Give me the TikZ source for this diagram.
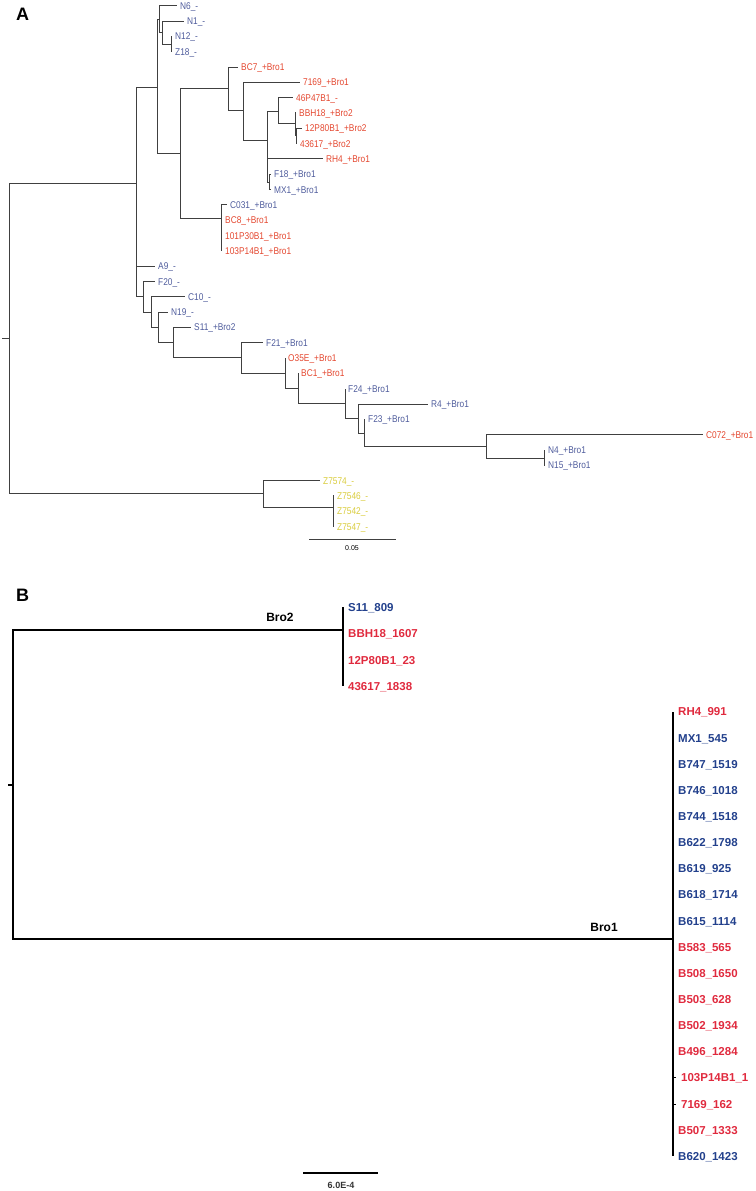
\documentclass[tikz,border=0pt]{standalone}
\usepackage{fontspec}
\setmainfont{Liberation Sans}
\newfontfamily\leaffont[FakeStretch=0.85]{Liberation Sans}
\definecolor{tblue}{HTML}{4F5C9C}
\definecolor{tred}{HTML}{E4472F}
\definecolor{tyel}{HTML}{D9CC3C}
\definecolor{bblue}{HTML}{22408C}
\definecolor{bred}{HTML}{E02A3E}
\definecolor{edge}{HTML}{404040}
\tikzset{br/.style={draw=edge,line width=0.9pt}, brB/.style={draw=black,line width=1.4pt},
leafA/.style={anchor=west,inner xsep=3pt,inner ysep=0pt,text height=7pt,text depth=0pt,font=\leaffont\fontsize{9.8}{10}\selectfont},
leafB/.style={anchor=west,inner xsep=5pt,inner ysep=0pt,text height=8.2pt,text depth=0pt,font=\bfseries\fontsize{11.5}{12}\selectfont},
ablue/.style={leafA,text=tblue}, ared/.style={leafA,text=tred}, ayel/.style={leafA,text=tyel},
bbl/.style={leafB,text=bblue}, brd/.style={leafB,text=bred},
panel/.style={font=\bfseries\fontsize{18}{18}\selectfont}, clade/.style={font=\bfseries\fontsize{12}{12}\selectfont}}

\begin{document}
\begin{tikzpicture}[x=1pt,y=-1pt]
\useasboundingbox (0,0) rectangle (755,1191);
\node[panel] (pA) at (22.5,14) {A};
\node[panel] (pB) at (22.5,595.5) {B};
% tree A, internal nodes
\coordinate (rA0) at (2,338); \coordinate (rA) at (9,338);
\coordinate (a1) at (136,183); \coordinate (a2) at (157,87); \coordinate (a3) at (159,19);
\coordinate (a4) at (162,32); \coordinate (a5) at (171,44); \coordinate (a6) at (180,153);
\coordinate (a7) at (228,88); \coordinate (a8) at (243,110); \coordinate (a9) at (267,140);
\coordinate (a10) at (278,111); \coordinate (a11) at (295,123); \coordinate (a12) at (296,135);
\coordinate (a13) at (269,182); \coordinate (a14) at (221,218);
\coordinate (a20) at (143,296); \coordinate (a21) at (151,312); \coordinate (a22) at (158,327);
\coordinate (a23) at (173,342); \coordinate (a24) at (241,357.5); \coordinate (a25) at (285,373);
\coordinate (a26) at (298,388); \coordinate (a27) at (345,403); \coordinate (a28) at (358,418);
\coordinate (a29) at (364,433); \coordinate (a30) at (486,446.5); \coordinate (a31) at (544,458);
\coordinate (az1) at (263,493.5); \coordinate (az2) at (333,507);
% tree A, leaves
\node[ablue] (aN6) at (177,5.7) {N6\_-};
\node[ablue] (aN1) at (184,21.0) {N1\_-};
\node[ablue] (aN12) at (172,36.3) {N12\_-};
\node[ablue] (aZ18) at (172,51.7) {Z18\_-};
\node[ared] (aBC7) at (238,67.0) {BC7\_+Bro1};
\node[ared] (a7169) at (300,82.3) {7169\_+Bro1};
\node[ared] (a46P) at (293,97.6) {46P47B1\_-};
\node[ared] (aBBH) at (296,112.9) {BBH18\_+Bro2};
\node[ared] (a12P) at (302,128.3) {12P80B1\_+Bro2};
\node[ared] (a436) at (297,143.6) {43617\_+Bro2};
\node[ared] (aRH4) at (323,158.9) {RH4\_+Bro1};
\node[ablue] (aF18) at (271,174.2) {F18\_+Bro1};
\node[ablue] (aMX1) at (271,189.5) {MX1\_+Bro1};
\node[ablue] (aC031) at (227,204.9) {C031\_+Bro1};
\node[ared] (aBC8) at (222,220.2) {BC8\_+Bro1};
\node[ared] (a101) at (222,235.5) {101P30B1\_+Bro1};
\node[ared] (a103) at (222,250.8) {103P14B1\_+Bro1};
\node[ablue] (aA9) at (155,266.1) {A9\_-};
\node[ablue] (aF20) at (155,281.5) {F20\_-};
\node[ablue] (aC10) at (185,296.8) {C10\_-};
\node[ablue] (aN19) at (168,312.1) {N19\_-};
\node[ablue] (aS11) at (191,327.4) {S11\_+Bro2};
\node[ablue] (aF21) at (263,342.7) {F21\_+Bro1};
\node[ared] (aO35E) at (285,358.1) {O35E\_+Bro1};
\node[ared] (aBC1) at (298,373.4) {BC1\_+Bro1};
\node[ablue] (aF24) at (345,388.7) {F24\_+Bro1};
\node[ablue] (aR4) at (428,404.0) {R4\_+Bro1};
\node[ablue] (aF23) at (365,419.3) {F23\_+Bro1};
\node[ared] (aC072) at (703,434.7) {C072\_+Bro1};
\node[ablue] (aN4) at (545,450.0) {N4\_+Bro1};
\node[ablue] (aN15) at (545,465.3) {N15\_+Bro1};
\node[ayel] (aZ74) at (320,480.6) {Z7574\_-};
\node[ayel] (aZ46) at (334,495.9) {Z7546\_-};
\node[ayel] (aZ42) at (334,511.3) {Z7542\_-};
\node[ayel] (aZ47) at (334,526.6) {Z7547\_-};
% tree A, branches
\draw[br] (rA0) -- (rA); \draw[br] (rA) |- (a1); \draw[br] (rA) |- (az1);
\draw[br] (a1) |- (a2); \draw[br] (a1) |- (aA9.west); \draw[br] (a1) |- (a20);
\draw[br] (a2) |- (a3); \draw[br] (a2) |- (a6);
\draw[br] (a3) |- (aN6.west); \draw[br] (a3) |- (a4);
\draw[br] (a4) |- (aN1.west); \draw[br] (a4) |- (a5);
\draw[br] (a5) |- (aN12.west); \draw[br] (a5) |- (aZ18.west);
\draw[br] (a6) |- (a7); \draw[br] (a6) |- (a14);
\draw[br] (a7) |- (aBC7.west); \draw[br] (a7) |- (a8);
\draw[br] (a8) |- (a7169.west); \draw[br] (a8) |- (a9);
\draw[br] (a9) |- (a10); \draw[br] (a9) |- (aRH4.west); \draw[br] (a9) |- (a13);
\draw[br] (a10) |- (a46P.west); \draw[br] (a10) |- (a11);
\draw[br] (a11) |- (aBBH.west); \draw[br] (a11) |- (a12);
\draw[br] (a12) |- (a12P.west); \draw[br] (a12) |- (a436.west);
\draw[br] (a13) |- (aF18.west); \draw[br] (a13) |- (aMX1.west);
\draw[br] (a14) |- (aC031.west); \draw[br] (a14) |- (aBC8.west); \draw[br] (a14) |- (a101.west); \draw[br] (a14) |- (a103.west);
\draw[br] (a20) |- (aF20.west); \draw[br] (a20) |- (a21);
\draw[br] (a21) |- (aC10.west); \draw[br] (a21) |- (a22);
\draw[br] (a22) |- (aN19.west); \draw[br] (a22) |- (a23);
\draw[br] (a23) |- (aS11.west); \draw[br] (a23) |- (a24);
\draw[br] (a24) |- (aF21.west); \draw[br] (a24) |- (a25);
\draw[br] (a25) |- (aO35E.west); \draw[br] (a25) |- (a26);
\draw[br] (a26) |- (aBC1.west); \draw[br] (a26) |- (a27);
\draw[br] (a27) |- (aF24.west); \draw[br] (a27) |- (a28);
\draw[br] (a28) |- (aR4.west); \draw[br] (a28) |- (a29);
\draw[br] (a29) |- (aF23.west); \draw[br] (a29) |- (a30);
\draw[br] (a30) |- (aC072.west); \draw[br] (a30) |- (a31);
\draw[br] (a31) |- (aN4.west); \draw[br] (a31) |- (aN15.west);
\draw[br] (az1) |- (aZ74.west); \draw[br] (az1) |- (az2);
\draw[br] (az2) |- (aZ46.west); \draw[br] (az2) |- (aZ42.west); \draw[br] (az2) |- (aZ47.west);
% scale A
\coordinate (sA1) at (309,539); \coordinate (sA2) at (396,539);
\draw[br] (sA1) -- (sA2);
\node[font=\fontsize{7}{7}\selectfont] (sAl) at (352,548) {0.05};
% tree B
\coordinate (rB0) at (8,785); \coordinate (rB) at (13,785);
\coordinate (b1) at (343,630); \coordinate (b2) at (673,939);
\node[clade] (lBro2) at (280,617.5) {Bro2};
\node[clade] (lBro1) at (604,927) {Bro1};
\node[bbl] (bS11) at (343,607) {S11\_809};
\node[brd] (bBBH) at (343,633) {BBH18\_1607};
\node[brd] (b12P) at (343,660) {12P80B1\_23};
\node[brd] (b436) at (343,686) {43617\_1838};
\node[brd] (bRH4) at (673,711.7) {RH4\_991};
\node[bbl] (bMX1) at (673,737.9) {MX1\_545};
\node[bbl] (b747) at (673,764.0) {B747\_1519};
\node[bbl] (b746) at (673,790.2) {B746\_1018};
\node[bbl] (b744) at (673,816.3) {B744\_1518};
\node[bbl] (b622) at (673,842.5) {B622\_1798};
\node[bbl] (b619) at (673,868.6) {B619\_925};
\node[bbl] (b618) at (673,894.8) {B618\_1714};
\node[bbl] (b615) at (673,920.9) {B615\_1114};
\node[brd] (b583) at (673,947.1) {B583\_565};
\node[brd] (b508) at (673,973.2) {B508\_1650};
\node[brd] (b503) at (673,999.4) {B503\_628};
\node[brd] (b502) at (673,1025.5) {B502\_1934};
\node[brd] (b496) at (673,1051.7) {B496\_1284};
\node[brd] (b103) at (676,1077.8) {103P14B1\_1};
\node[brd] (b7169) at (676,1104.0) {7169\_162};
\node[brd] (b507) at (673,1130.1) {B507\_1333};
\node[bbl] (b620) at (673,1156.3) {B620\_1423};
\draw[brB] (rB0) -- (rB); \draw[brB] (rB) |- (b1); \draw[brB] (rB) |- (b2);
\draw[brB] (b1) |- (bS11.west); \draw[brB] (b1) |- (b436.west);
\draw[brB] (b2) |- (bRH4.west); \draw[brB] (b2) |- (b620.west);
\draw[brB,line width=1pt] (b2) |- (b103.west); \draw[brB,line width=1pt] (b2) |- (b7169.west);
% scale B
\coordinate (sB1) at (303,1173); \coordinate (sB2) at (378,1173);
\draw[brB,line width=1.2pt] (sB1) -- (sB2);
\node[font=\bfseries\fontsize{9}{9}\selectfont,text=black!80] (sBl) at (341,1185) {6.0E-4};
\end{tikzpicture}
\end{document}
